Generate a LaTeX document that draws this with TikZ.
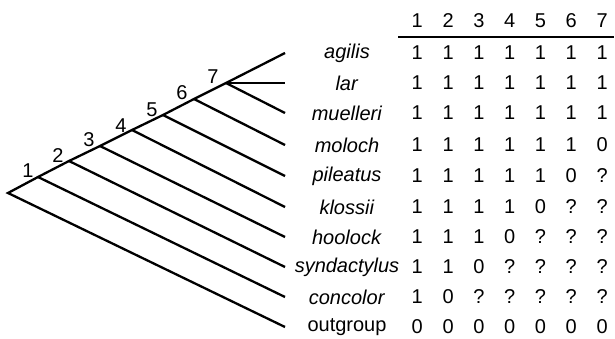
\documentclass[tikz,border=0pt]{standalone}
\usepackage{fontspec}
\setmainfont{Liberation Sans}
\begin{document}
\begin{tikzpicture}[x=1pt,y=-1pt,
        branch/.style={line width=2.3pt,line join=miter},
        every node/.style={font=\fontsize{20}{22}\selectfont,inner sep=0pt}]
        \useasboundingbox (0,0) rectangle (615,339);
        % spine of the tree
        \coordinate (r) at (8,193);
        \coordinate (n1) at (38,177);
        \coordinate (n2) at (69,161);
        \coordinate (n3) at (100,146);
        \coordinate (n4) at (132,130);
        \coordinate (n5) at (163,115);
        \coordinate (n6) at (194,99);
        \coordinate (n7) at (226,83);
        % tips
        \coordinate (a1) at (285,53);
        \coordinate (a2) at (285,83);
        \coordinate (a3) at (285,113);
        \coordinate (a4) at (285,145);
        \coordinate (a5) at (285,176);
        \coordinate (a6) at (285,207);
        \coordinate (a7) at (285,237);
        \coordinate (a8) at (285,267);
        \coordinate (a9) at (285,297);
        \coordinate (a10) at (285,327);
        % node numbers
        \node (l1) at (28,171) {1};
        \node (l2) at (58,156) {2};
        \node (l3) at (89,140) {3};
        \node (l4) at (121,126) {4};
        \node (l5) at (152,110) {5};
        \node (l6) at (182,93) {6};
        \node (l7) at (213,77) {7};
        % taxa
        \node (agi) at (347,53) {\textit{agilis}};
        \node (lar) at (347,83) {\textit{lar}};
        \node (mue) at (347,113) {\textit{muelleri}};
        \node (mol) at (347,145) {\textit{moloch}};
        \node (pil) at (347,176) {\textit{pileatus}};
        \node (klo) at (347,207) {\textit{klossii}};
        \node (hoo) at (347,237) {\textit{hoolock}};
        \node (syn) at (347,267) {\textit{syndactylus}};
        \node (con) at (347,297) {\textit{concolor}};
        \node (out) at (347,327) {outgroup};
        % branches
        \draw[branch] (a10) -- (r) -- (n1) -- (n2) -- (n3) -- (n4) -- (n5) -- (n6) -- (n7) -- (a1);
        \draw[branch] (n7) -- (a2); \draw[branch] (n7) -- (a3);
        \draw[branch] (n6) -- (a4); \draw[branch] (n5) -- (a5);
        \draw[branch] (n4) -- (a6); \draw[branch] (n3) -- (a7);
        \draw[branch] (n2) -- (a8); \draw[branch] (n1) -- (a9);
        % character table
        \foreach \j in {1,...,7}
            \node (h\j) at ({386.5+30.8*\j},21) {\j};
        \draw[line width=1.2pt] (398,37) -- (614,37);
        \foreach \y/\states [count=\i] in {53/{1,1,1,1,1,1,1},83/{1,1,1,1,1,1,1},
                113/{1,1,1,1,1,1,1},145/{1,1,1,1,1,1,0},176/{1,1,1,1,1,0,?},
                207/{1,1,1,1,0,?,?},237/{1,1,1,0,?,?,?},267/{1,1,0,?,?,?,?},
                297/{1,0,?,?,?,?,?},327/{0,0,0,0,0,0,0}}
            \foreach \s [count=\j] in \states
                \node (c\i-\j) at ({386.5+30.8*\j},\y) {\s};
\end{tikzpicture}
\end{document}
